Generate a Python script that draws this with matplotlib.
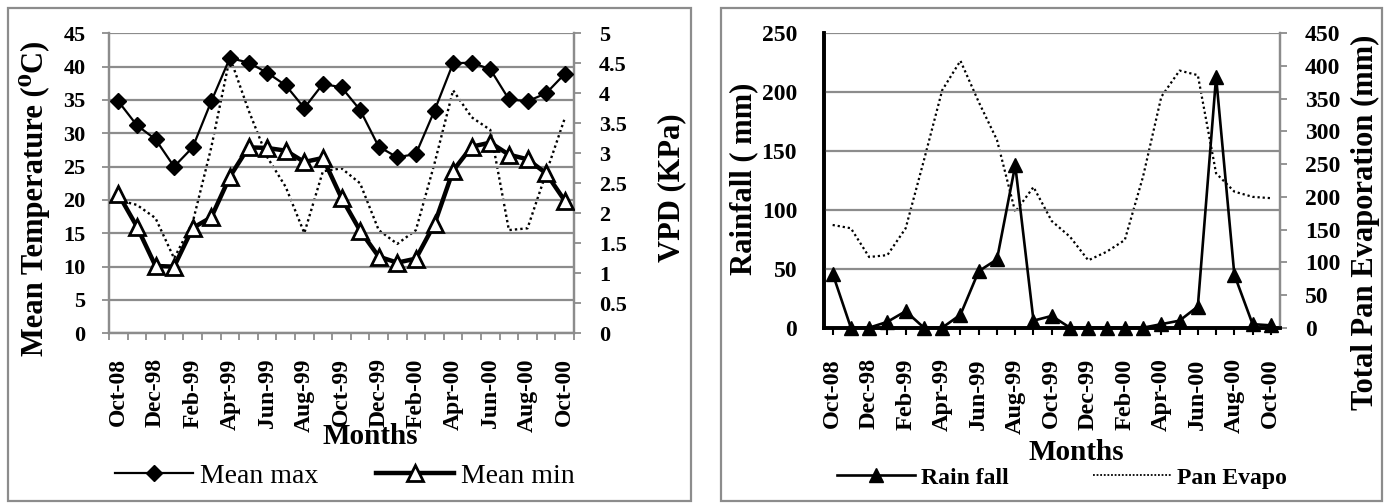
import numpy as np
import matplotlib
matplotlib.use('Agg')
import matplotlib.pyplot as plt
from matplotlib.patches import Rectangle
from matplotlib.lines import Line2D
from matplotlib.ticker import FuncFormatter

months = ['Oct-08', 'Nov-98', 'Dec-98', 'Jan-99', 'Feb-99', 'Mar-99', 'Apr-99',
          'May-99', 'Jun-99', 'Jul-99', 'Aug-99', 'Sep-99', 'Oct-99', 'Nov-99',
          'Dec-99', 'Jan-00', 'Feb-00', 'Mar-00', 'Apr-00', 'May-00', 'Jun-00',
          'Jul-00', 'Aug-00', 'Sep-00', 'Oct-00']
mean_max = [34.8, 31.2, 29.1, 25.0, 27.9, 34.8, 41.3, 40.6, 39.1, 37.2, 33.8, 37.4,
            36.9, 33.5, 28.0, 26.4, 26.9, 33.4, 40.5, 40.6, 39.6, 35.1, 34.8, 36.0, 38.9]
mean_min = [20.9, 16.0, 10.1, 10.0, 15.8, 17.4, 23.5, 27.9, 27.8, 27.4, 25.7, 26.3,
            20.3, 15.4, 11.5, 10.6, 11.2, 16.4, 24.4, 28.0, 28.6, 26.8, 26.1, 24.0, 19.9]
vpd = [2.22, 2.14, 1.92, 1.25, 1.85, 3.1, 4.6, 3.72, 2.94, 2.44, 1.67, 2.7,
       2.75, 2.5, 1.72, 1.49, 1.72, 2.83, 4.05, 3.6, 3.39, 1.72, 1.75, 2.67, 3.58]
rainfall = [46, 0, 0, 5, 14, 0, 0, 11, 48, 58, 138, 6, 10, 0, 0, 0, 0, 0, 3, 6, 18,
            213, 45, 3, 2]
pan_evapo = [157, 152, 108, 111, 152, 256, 363, 408, 345, 287, 177, 215, 163, 139,
             103, 116, 134, 231, 353, 393, 386, 236, 208, 200, 198]

plt.rcParams['font.family'] = ['Liberation Serif', 'DejaVu Serif']
plt.rcParams['font.weight'] = 'bold'

GREY = '#8c8c8c'
W, H = 1387, 504
fig = plt.figure(figsize=(W / 100, H / 100), dpi=100)
fig.patch.set_facecolor('white')


def fx(px):
    return px / W


def fy(py):
    return 1 - py / H


# panel frames
for (x0, x1) in [(8, 691), (721, 1382)]:
    fig.patches.append(Rectangle((fx(x0), fy(501)), fx(x1 - x0), (501 - 8) / H,
                                 transform=fig.transFigure, fill=False,
                                 edgecolor=GREY, lw=1.6))

x = np.arange(len(months))

# ---------------- left panel ----------------
ax1 = fig.add_axes([fx(109), fy(333.3), fx(465), 300 / H])
ax1b = ax1.twinx()
ax1.set_zorder(ax1b.get_zorder() + 1)
ax1.patch.set_visible(False)

ax1b.plot(x, vpd, color='black', lw=1.7, ls=(0, (1, 1.3)))
ax1.plot(x, mean_min, color='black', lw=3.2, marker='^', ms=11, mfc='white',
         mec='black', mew=2, zorder=3)
ax1.plot(x, mean_max, color='black', lw=1.6, marker='D', ms=8.5, mfc='black',
         mec='black', zorder=4)

ax1.set_xlim(-0.5, len(months) - 0.5)
ax1.set_ylim(0, 45)
ax1.set_yticks(np.arange(0, 46, 5))
ax1b.set_ylim(0, 5)
ax1b.set_yticks(np.arange(0, 5.01, 0.5))
ax1b.yaxis.set_major_formatter(FuncFormatter(lambda v, p: f'{v:g}'))
ax1.set_xticks(x[::2])
ax1.set_xticklabels(months[::2], rotation=90)
ax1.set_xticks(np.arange(-0.5, len(months), 1), minor=True)
ax1.tick_params(axis='x', which='major', length=0, pad=18, labelsize=17)
ax1.tick_params(axis='x', which='minor', length=5, width=1.3, color=GREY)
ax1.tick_params(axis='y', length=5, width=1.3, color=GREY, pad=12, labelsize=16)
ax1b.tick_params(axis='y', length=5, width=1.3, color=GREY, pad=13, labelsize=16)
ax1.yaxis.grid(True, color=GREY, lw=1.6)
for a in (ax1, ax1b):
    a.spines['top'].set_visible(False)
    for s in ('left', 'right', 'bottom'):
        a.spines[s].set_color(GREY)
        a.spines[s].set_linewidth(1.6)

# ---------------- right panel ----------------
ax2 = fig.add_axes([fx(823.5), fy(327.7), fx(456.5), 294.4 / H])
ax2b = ax2.twinx()
ax2b.plot(x, pan_evapo, color='black', lw=1.6, ls=(0, (1, 1.3)))
ax2.set_zorder(ax2b.get_zorder() + 1)
ax2.patch.set_visible(False)
ax2.plot(x, rainfall, color='black', lw=1.9, marker='^', ms=10, mfc='black',
         mec='black', zorder=4, clip_on=False)

ax2.set_xlim(-0.5, len(months) - 0.5)
ax2.set_ylim(0, 250)
ax2.set_yticks(np.arange(0, 251, 50))
ax2b.set_ylim(0, 450)
ax2b.set_yticks(np.arange(0, 451, 50))
ax2.set_xticks(x)
ax2.set_xticklabels([m if i % 2 == 0 else '' for i, m in enumerate(months)],
                    rotation=90)
ax2.tick_params(axis='x', length=5, width=1.5, color='black', pad=17, labelsize=17.5)
ax2.tick_params(axis='y', length=0, pad=19, labelsize=17)
ax2b.tick_params(axis='y', length=5, width=1.3, color=GREY, pad=13, labelsize=17)
ax2.yaxis.grid(True, color=GREY, lw=1.6)
for a in (ax2, ax2b):
    a.spines['top'].set_visible(False)
    a.spines['right'].set_color(GREY)
    a.spines['right'].set_linewidth(1.6)
    a.spines['left'].set_color('black')
    a.spines['left'].set_linewidth(2.6)
    a.spines['bottom'].set_color('black')
    a.spines['bottom'].set_linewidth(2.6)

# ---------------- axis titles ----------------
fig.text(fx(35), fy(198), 'Mean Temperature (\u2070C)', rotation=90, ha='center',
         va='center', fontsize=22, fontweight='bold')
fig.text(fx(672), fy(188), 'VPD (KPa)', rotation=90, ha='center', va='center',
         fontsize=22, fontweight='bold')
fig.text(fx(370), fy(437), 'Months', ha='center', va='center', fontsize=21,
         fontweight='bold')
fig.text(fx(744), fy(179), 'Rainfall ( mm)', rotation=90, ha='center', va='center',
         fontsize=22, fontweight='bold')
fig.text(fx(1365), fy(222), 'Total Pan Evaporation (mm)', rotation=90, ha='center',
         va='center', fontsize=22, fontweight='bold')
fig.text(fx(1076), fy(452), 'Months', ha='center', va='center', fontsize=21,
         fontweight='bold')

# ---------------- legends ----------------
h1 = [Line2D([], [], color='black', lw=1.6, marker='D', ms=8.5),
      Line2D([], [], color='black', lw=3.2, marker='^', ms=11, mfc='white', mew=2)]
fig.legend(h1, ['Mean max', 'Mean min'], loc='center', bbox_to_anchor=(fx(345), fy(476)),
           ncol=2, frameon=False, handlelength=2.8, handletextpad=0.25,
           columnspacing=2.1, prop={'family': ['Liberation Serif'], 'weight': 'normal',
                                    'size': 20})
h2 = [Line2D([], [], color='black', lw=1.9, marker='^', ms=10),
      Line2D([], [], color='black', lw=1.3, ls=(0, (1, 1)))]
fig.legend(h2, ['Rain fall', 'Pan Evapo'], loc='center', bbox_to_anchor=(fx(1062), fy(478)),
           ncol=2, frameon=False, handlelength=3.3, handletextpad=0.25,
           columnspacing=3.6, prop={'family': ['Liberation Serif'], 'weight': 'bold',
                                    'size': 17})

fig.savefig('out.png', dpi=100, facecolor='white')
